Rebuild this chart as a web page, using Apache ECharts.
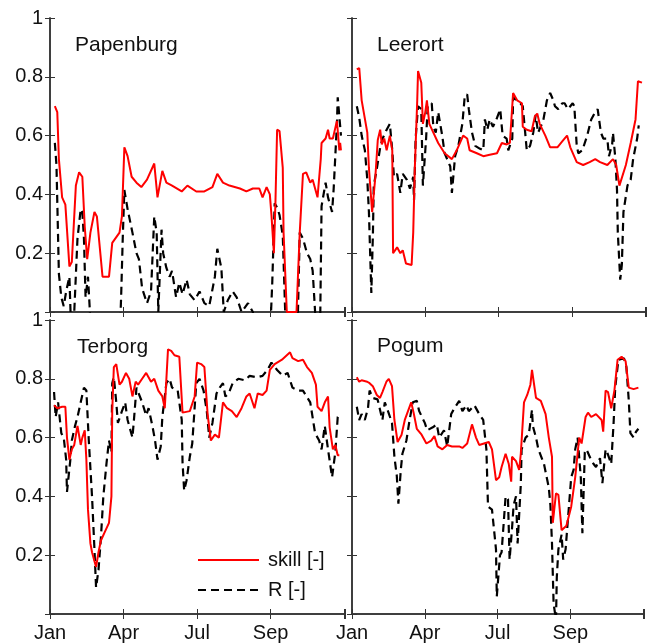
<!DOCTYPE html>
<html>
<head>
<meta charset="utf-8">
<script src="https://cdn.jsdelivr.net/npm/echarts@6/dist/echarts.min.js"></script>
<style>
  html, body { margin: 0; padding: 0; background: #fff; }
  #chart { width: 647px; height: 644px; }
</style>
</head>
<body>
<div id="chart"></div>
<script>
// Station names, one panel each (top-left, top-right, bottom-left, bottom-right)
const stations = ['Papenburg', 'Leerort', 'Terborg', 'Pogum'];
// Month labels placed every 91 days along the year axis
const monthLabels = ['Jan', 'Apr', 'Jul', 'Sep'];
const seriesNames = ['skill [-]', 'R [-]'];

// [day of year, value]
const papenburgSkill = [[6,0.70],[9,0.68],[11,0.52],[15,0.39],[19,0.365],[24,0.155],[27,0.17],[32,0.43],[36,0.475],[40,0.46],[43,0.29],[46,0.18],[50,0.27],[55,0.34],[58,0.325],[65,0.12],[73,0.12],[77,0.235],[86,0.27],[89,0.325],[92,0.56],[96,0.53],[101,0.46],[107,0.44],[113,0.425],[120,0.45],[129,0.505],[133,0.39],[139,0.48],[144,0.44],[151,0.43],[163,0.41],[170,0.43],[181,0.41],[191,0.41],[201,0.425],[207,0.47],[214,0.44],[222,0.43],[235,0.42],[243,0.41],[251,0.42],[259,0.42],[263,0.39],[268,0.425],[272,0.40],[274,0.33],[277,0.20],[279,0.38],[281,0.62],[284,0.615],[288,0.49],[289,0.27],[293,0],[305,0],[309,0.27],[313,0.47],[317,0.475],[322,0.44],[325,0.45],[328,0.42],[331,0.39],[335,0.52],[336,0.575],[341,0.59],[344,0.62],[346,0.59],[350,0.59],[355,0.65],[356,0.65],[358,0.55],[359,0.575],[360,0.55]];
const papenburgR = [[6,0.575],[8,0.50],[11,0.13],[14,0.05],[17,0.02],[20,0.07],[24,0.12],[26,-0.05],[30,0.0],[34,0.25],[38,0.35],[40,0.34],[42,0.25],[44,0.05],[47,0.12],[49,0.02],[51,-0.1],[86,-0.1],[88,0.05],[90,0.25],[92,0.415],[96,0.35],[102,0.27],[107,0.20],[110,0.18],[114,0.08],[120,0.03],[125,0.07],[129,0.325],[132,0.27],[134,0.0],[138,0.28],[140,0.2],[144,0.15],[148,0.12],[151,0.14],[156,0.05],[160,0.10],[164,0.06],[169,0.11],[173,0.06],[179,0.04],[185,0.07],[191,0.03],[197,0.02],[204,0.12],[207,0.215],[212,0.15],[215,0.0],[220,0.04],[226,0.07],[231,0.05],[237,0.0],[245,0.03],[251,0.0],[255,-0.1],[272,-0.1],[275,0.1],[278,0.37],[281,0.355],[284,0.33],[288,0.26],[291,0],[293,-0.1],[306,-0.1],[309,0.27],[313,0.25],[318,0.2],[322,0.18],[325,0.14],[328,0.0],[331,-0.1],[334,-0.1],[336,0.36],[341,0.44],[344,0.39],[349,0.34],[351,0.42],[355,0.64],[356,0.73],[358,0.665],[360,0.6]];

const leerortSkill = [[6,0.825],[9,0.83],[12,0.72],[19,0.61],[21,0.49],[25,0.34],[29,0.46],[32,0.585],[35,0.62],[37,0.57],[40,0.59],[43,0.55],[47,0.60],[50,0.55],[51,0.2],[56,0.22],[60,0.2],[63,0.21],[67,0.165],[74,0.16],[76,0.27],[78,0.49],[81,0.72],[82,0.82],[86,0.78],[88,0.64],[91,0.68],[93,0.72],[96,0.64],[101,0.61],[107,0.575],[115,0.54],[124,0.52],[130,0.55],[138,0.60],[143,0.59],[146,0.55],[155,0.54],[163,0.53],[171,0.535],[180,0.54],[186,0.575],[192,0.57],[196,0.575],[200,0.745],[205,0.72],[211,0.71],[212,0.63],[217,0.62],[223,0.615],[227,0.665],[230,0.675],[233,0.64],[240,0.60],[246,0.56],[255,0.56],[261,0.58],[267,0.60],[271,0.56],[279,0.51],[287,0.50],[295,0.51],[302,0.52],[308,0.51],[317,0.50],[324,0.52],[328,0.5],[332,0.43],[340,0.5],[346,0.575],[352,0.655],[355,0.785],[360,0.78]];
const leerortR = [[6,0.70],[9,0.66],[12,0.60],[16,0.55],[19,0.45],[21,0.34],[24,0.065],[26,0.27],[27,0.43],[31,0.49],[35,0.56],[38,0.59],[43,0.62],[47,0.64],[50,0.55],[52,0.46],[56,0.47],[60,0.405],[63,0.47],[68,0.45],[72,0.42],[76,0.46],[77,0.38],[79,0.59],[82,0.70],[86,0.69],[88,0.43],[92,0.59],[94,0.70],[99,0.71],[101,0.63],[104,0.61],[107,0.68],[112,0.60],[115,0.54],[122,0.495],[124,0.405],[128,0.53],[132,0.565],[137,0.64],[140,0.735],[143,0.74],[145,0.69],[149,0.61],[153,0.565],[159,0.555],[163,0.55],[165,0.655],[168,0.62],[171,0.655],[175,0.63],[180,0.66],[184,0.69],[186,0.63],[187,0.6],[192,0.59],[194,0.55],[199,0.59],[200,0.73],[205,0.72],[209,0.71],[212,0.70],[215,0.61],[217,0.55],[221,0.565],[225,0.61],[228,0.67],[231,0.61],[235,0.635],[237,0.645],[242,0.72],[246,0.745],[250,0.72],[252,0.70],[256,0.69],[261,0.71],[264,0.71],[268,0.69],[274,0.71],[276,0.70],[279,0.565],[281,0.54],[286,0.55],[292,0.60],[297,0.655],[302,0.68],[305,0.69],[309,0.61],[312,0.59],[317,0.59],[319,0.53],[323,0.57],[324,0.61],[327,0.52],[329,0.415],[330,0.27],[333,0.11],[335,0.16],[337,0.34],[342,0.43],[346,0.45],[349,0.52],[354,0.59],[356,0.635]];

const terborgSkill = [[5,0.71],[9,0.70],[15,0.705],[19,0.705],[21,0.60],[24,0.525],[27,0.56],[30,0.575],[34,0.64],[38,0.575],[40,0.60],[43,0.625],[45,0.525],[47,0.355],[50,0.24],[52,0.21],[57,0.16],[60,0.21],[63,0.25],[68,0.28],[73,0.31],[76,0.40],[77,0.69],[79,0.84],[82,0.85],[86,0.78],[89,0.79],[94,0.82],[98,0.80],[102,0.74],[106,0.79],[109,0.78],[114,0.80],[119,0.82],[125,0.79],[129,0.80],[134,0.76],[139,0.74],[142,0.70],[144,0.70],[146,0.90],[150,0.895],[154,0.88],[160,0.875],[164,0.685],[166,0.68],[173,0.69],[179,0.74],[182,0.855],[187,0.85],[191,0.84],[195,0.68],[199,0.59],[204,0.61],[209,0.60],[214,0.72],[219,0.70],[225,0.69],[231,0.67],[237,0.70],[243,0.74],[247,0.75],[253,0.70],[257,0.75],[263,0.745],[268,0.76],[272,0.83],[278,0.85],[287,0.865],[297,0.89],[300,0.87],[307,0.86],[313,0.865],[318,0.84],[324,0.82],[329,0.78],[331,0.705],[336,0.69],[340,0.72],[344,0.74],[346,0.635],[350,0.56],[353,0.575],[356,0.54],[358,0.54]];
const terborgR = [[5,0.755],[7,0.67],[10,0.72],[14,0.615],[17,0.60],[20,0.525],[21,0.415],[25,0.52],[27,0.59],[31,0.64],[34,0.67],[38,0.72],[42,0.77],[45,0.76],[48,0.59],[52,0.40],[55,0.22],[57,0.09],[60,0.15],[63,0.26],[66,0.40],[70,0.515],[73,0.59],[76,0.55],[77,0.785],[79,0.805],[82,0.72],[84,0.65],[89,0.69],[93,0.72],[96,0.66],[102,0.60],[104,0.665],[107,0.77],[109,0.77],[114,0.72],[119,0.675],[122,0.70],[127,0.635],[130,0.59],[133,0.525],[137,0.57],[139,0.67],[144,0.785],[148,0.80],[151,0.77],[158,0.76],[163,0.66],[164,0.515],[166,0.42],[169,0.455],[173,0.535],[176,0.58],[181,0.785],[185,0.80],[190,0.76],[194,0.69],[197,0.60],[201,0.65],[206,0.75],[210,0.77],[214,0.785],[217,0.74],[221,0.75],[226,0.785],[233,0.80],[241,0.795],[247,0.81],[256,0.805],[263,0.81],[269,0.83],[274,0.855],[281,0.83],[288,0.81],[294,0.82],[300,0.77],[307,0.76],[313,0.76],[322,0.72],[328,0.615],[333,0.59],[336,0.56],[340,0.64],[344,0.56],[349,0.465],[353,0.55],[356,0.67],[358,0.68]];

const pogumSkill = [[6,0.805],[9,0.79],[12,0.795],[19,0.79],[22,0.785],[26,0.775],[31,0.745],[35,0.735],[38,0.755],[43,0.79],[46,0.80],[50,0.775],[53,0.66],[57,0.585],[62,0.61],[66,0.66],[70,0.69],[74,0.72],[77,0.685],[81,0.63],[87,0.61],[93,0.58],[99,0.59],[103,0.605],[107,0.57],[113,0.56],[119,0.575],[125,0.57],[134,0.57],[138,0.565],[144,0.58],[150,0.645],[155,0.60],[159,0.575],[165,0.58],[171,0.585],[175,0.56],[180,0.455],[184,0.465],[187,0.50],[192,0.545],[196,0.51],[199,0.45],[200,0.535],[205,0.52],[209,0.49],[211,0.545],[215,0.72],[219,0.745],[223,0.78],[225,0.83],[230,0.735],[236,0.725],[242,0.68],[246,0.60],[250,0.535],[251,0.31],[255,0.41],[258,0.405],[262,0.285],[268,0.30],[274,0.365],[279,0.465],[284,0.60],[287,0.58],[292,0.67],[295,0.685],[299,0.67],[305,0.68],[312,0.66],[314,0.62],[317,0.76],[320,0.755],[324,0.70],[328,0.76],[332,0.865],[337,0.875],[342,0.86],[346,0.77],[352,0.765],[358,0.77]];
const pogumR = [[6,0.705],[9,0.66],[12,0.68],[16,0.66],[20,0.70],[22,0.76],[26,0.735],[32,0.73],[38,0.66],[41,0.72],[45,0.69],[50,0.65],[53,0.535],[56,0.47],[58,0.375],[61,0.49],[63,0.545],[68,0.59],[72,0.66],[76,0.72],[81,0.725],[84,0.69],[91,0.65],[94,0.625],[101,0.635],[106,0.645],[109,0.60],[115,0.625],[119,0.57],[124,0.68],[128,0.70],[134,0.725],[138,0.69],[143,0.71],[146,0.69],[153,0.71],[159,0.68],[164,0.66],[168,0.56],[170,0.365],[175,0.355],[180,0.22],[181,0.06],[185,0.2],[187,0.21],[192,0.40],[195,0.39],[197,0.185],[200,0.29],[202,0.37],[205,0.40],[207,0.24],[211,0.44],[212,0.56],[217,0.60],[221,0.61],[225,0.695],[226,0.64],[230,0.60],[233,0.56],[240,0.51],[246,0.43],[248,0.37],[250,0.24],[252,0.035],[255,-0.02],[256,0.125],[258,0.22],[262,0.27],[264,0.185],[267,0.22],[271,0.36],[274,0.465],[277,0.49],[279,0.56],[282,0.60],[286,0.465],[288,0.275],[291,0.55],[293,0.56],[298,0.53],[302,0.51],[305,0.50],[310,0.53],[313,0.445],[317,0.56],[319,0.55],[324,0.51],[327,0.65],[329,0.77],[333,0.865],[340,0.87],[343,0.84],[346,0.725],[348,0.615],[352,0.60],[355,0.62],[358,0.63]];

const panelData = [
  [papenburgSkill, papenburgR],
  [leerortSkill, leerortR],
  [terborgSkill, terborgR],
  [pogumSkill, pogumR]
];

const FONT = '"Liberation Sans", Arial, sans-serif';
const FRAME = '#333';

// Panel rectangles in pixels
const grids = [
  { left: 50, top: 18, width: 295, height: 294 },
  { left: 352, top: 18, width: 294, height: 294 },
  { left: 50, top: 320, width: 295, height: 294 },
  { left: 352, top: 320, width: 294, height: 294 }
];
const titlePos = [
  { left: 75, top: 35 },
  { left: 377, top: 35 },
  { left: 77, top: 337 },
  { left: 377, top: 336 }
];

const xAxes = [], yAxes = [], series = [], titles = [];
grids.forEach((g, i) => {
  const isBottom = i >= 2;
  const isLeft = i % 2 === 0;
  const common = {
    gridIndex: i,
    axisLine: { show: true, lineStyle: { color: FRAME, width: 1.5 } },
    axisTick: { show: true, inside: true, length: 5, lineStyle: { color: FRAME, width: 1 } },
    splitLine: { show: false }
  };
  // bottom (data) and top (frame) x axes
  [false, true].forEach(top => {
    xAxes.push(Object.assign({}, common, {
      type: 'value', min: 0, max: 365, interval: 91,
      position: top ? 'top' : 'bottom',
      axisLabel: {
        show: isBottom && !top, margin: 9,
        fontSize: 20, color: '#111', fontFamily: FONT,
        formatter: v => monthLabels[Math.round(v / 91)] || ''
      }
    }));
  });
  // left (data) and right (frame) y axes
  [false, true].forEach(right => {
    yAxes.push(Object.assign({}, common, {
      type: 'value', min: 0, max: 1, interval: 0.2,
      position: right ? 'right' : 'left',
      axisLabel: {
        show: isLeft && !right, margin: 7,
        fontSize: 20, color: '#111', fontFamily: FONT,
        formatter: v => (v === 0 ? '' : String(+v.toFixed(1)))
      }
    }));
  });
  titles.push({
    text: stations[i], left: titlePos[i].left, top: titlePos[i].top, padding: 0,
    textStyle: { fontSize: 21, fontWeight: 'normal', color: '#111', fontFamily: FONT }
  });
  const [skill, r] = panelData[i];
  series.push({
    name: seriesNames[0], type: 'line', data: skill,
    xAxisIndex: 2 * i, yAxisIndex: 2 * i,
    symbol: 'none', clip: true, z: 3,
    lineStyle: { color: '#ff0000', width: 2 }, itemStyle: { color: '#ff0000' }
  });
  series.push({
    name: seriesNames[1], type: 'line', data: r,
    xAxisIndex: 2 * i, yAxisIndex: 2 * i,
    symbol: 'none', clip: true, z: 2,
    lineStyle: { color: '#000', width: 2.2, type: [8, 5] }, itemStyle: { color: '#000' }
  });
});

const chart = echarts.init(document.getElementById('chart'), null, { renderer: 'canvas' });
chart.setOption({
  animation: false,
  backgroundColor: '#fff',
  title: titles,
  grid: grids.map(g => Object.assign({ containLabel: false }, g)),
  xAxis: xAxes,
  yAxis: yAxes,
  legend: {
    data: seriesNames,
    orient: 'vertical', left: 197, top: 550,
    itemWidth: 61, itemHeight: 14, itemGap: 10,
    padding: 0,
    // line only, no marker on the key
    itemStyle: { opacity: 0 },
    textStyle: { fontSize: 20, color: '#111', fontFamily: FONT, padding: [0, 0, 0, 4] },
    selectedMode: false
  },
  series: series
});
</script>
</body>
</html>
